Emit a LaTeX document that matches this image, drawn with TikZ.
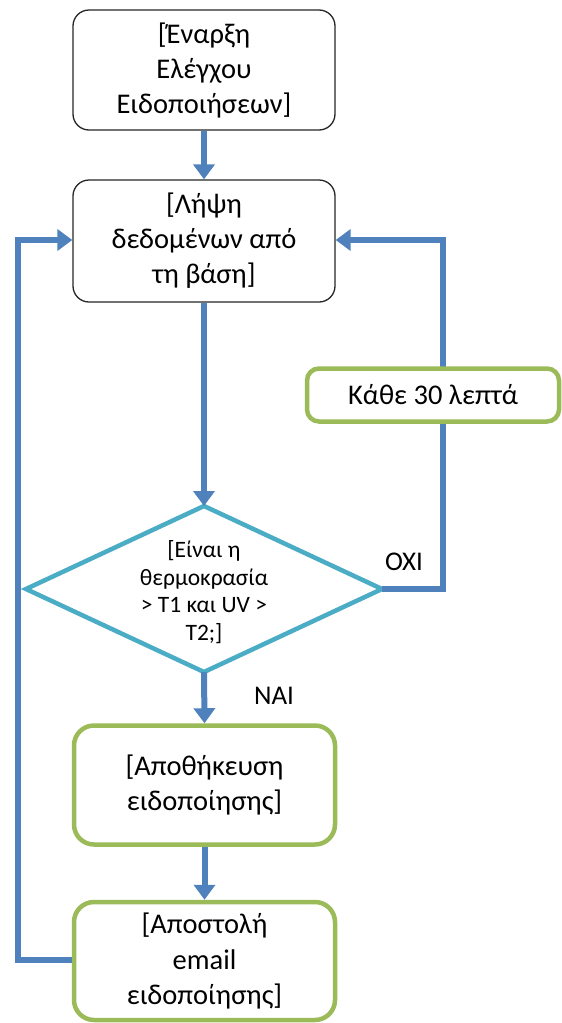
\documentclass[tikz,border=0pt]{standalone}
\usepackage{fontspec}
\setmainfont{Carlito}
\usetikzlibrary{arrows.meta}
\definecolor{flowblue}{HTML}{4F81BD}
\definecolor{flowgreen}{HTML}{9BBB59}
\definecolor{flowteal}{HTML}{4BACC6}
\definecolor{boxgray}{HTML}{262626}
\tikzset{
  plainbox/.style={draw=boxgray, line width=1.3pt, rounded corners=16pt, fill=white, align=center, font=\fontsize{28.5}{35}\selectfont, inner sep=0pt},
  greenbox/.style={draw=flowgreen, line width=4.5pt, rounded corners=20pt, fill=white, align=center, font=\fontsize{28.5}{35.5}\selectfont, inner sep=0pt},
  flow/.style={draw=flowblue, line width=6pt, -{Triangle[length=15pt,width=21pt]}},
  lbl/.style={font=\fontsize{27}{30}\selectfont, inner sep=0pt}
}
\begin{document}
\begin{tikzpicture}[x=1pt,y=-1pt]
\useasboundingbox (0,0) rectangle (562,1023);
% nodes
\node[plainbox, minimum width=262pt, minimum height=120pt] (start) at (204,70) {[Έναρξη\\Ελέγχου\\Ειδοποιήσεων]};
\node[plainbox, minimum width=262pt, minimum height=122pt] (fetch) at (204,241) {[Λήψη\\δεδομένων από\\τη βάση]};
\draw[draw=flowteal, line width=4.5pt, fill=white, line join=miter] (204,506) coordinate (dtop) -- (382,589) coordinate (dright) -- (204,672) coordinate (dbot) -- (26,589) coordinate (dleft) -- cycle;
\node[align=center, font=\fontsize{23.5}{27.5}\selectfont] (dec) at (204,592) {[Είναι η\\θερμοκρασία\\> T1 και UV >\\T2;]};
\node[greenbox, minimum width=261pt, minimum height=119pt] (save) at (204.5,785) {[Αποθήκευση\\ειδοποίησης]};
\node[greenbox, minimum width=261pt, minimum height=118pt] (send) at (204.5,961) {[Αποστολή\\email\\ειδοποίησης]};
\coordinate (rc) at (443,589);
\coordinate (rt) at (443,240);
\coordinate (lb) at (18,960);
\coordinate (lt) at (18,240);
% connectors
\draw[flow] (start.south) -- (fetch.north);
\draw[flow] (fetch.south) -- (dtop);
\draw[flow] (dbot) -- (save.north);
\draw[flow] (save.south) -- (send.north);
\draw[flow] (dright) -- (rc) -- (rt) -- (fetch.east |- rt);
\draw[flow] (send.west |- lb) -- (lb) -- (lt) -- (fetch.west |- lt);
\node[greenbox, minimum width=252pt, minimum height=53pt, rounded corners=12pt, font=\fontsize{28.5}{30}\selectfont] (every) at (433,395) {Κάθε 30 λεπτά};
\node[lbl] (oxi) at (404,562) {ΟΧΙ};
\node[lbl] (nai) at (274,696) {ΝΑΙ};
\end{tikzpicture}
\end{document}
